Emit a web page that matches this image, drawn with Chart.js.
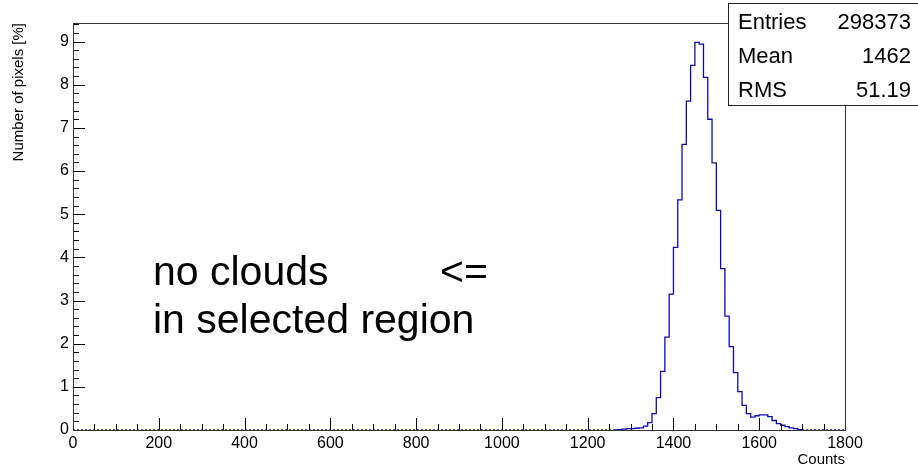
<!DOCTYPE html>
<html>
<head>
<meta charset="utf-8">
<script src="https://cdn.jsdelivr.net/npm/chart.js@4.4.1/dist/chart.umd.min.js"></script>
<style>
  html, body { margin: 0; padding: 0; background: #fff; }
  #wrap { width: 918px; height: 466px; }
</style>
</head>
<body>
<div id="wrap"><canvas id="histo" width="918" height="466"></canvas></div>
<script>
// histogram binning (counts axis)
var binWidth = 10;
var xMin = 0;
var xMax = 1800;
var yMax = 9.43;

// pixel fractions [%] per bin, starting at the first non-empty bin
var firstFilledBin = 1270;
var binContents = [
  0.01, 0.02, 0.03, 0.03, 0.04, 0.05, 0.09, 0.17, 0.38, 0.75,   // 1270-1360
  1.36, 2.15, 3.15, 4.23, 5.33, 6.62, 7.62, 8.45, 8.98, 8.94,   // 1370-1460
  8.17, 7.20, 6.19, 5.09, 3.74, 2.64, 1.93, 1.33, 0.89, 0.57,   // 1470-1560
  0.38, 0.30, 0.33, 0.35, 0.35, 0.31, 0.22, 0.15, 0.11, 0.08,   // 1570-1660
  0.05, 0.03, 0.01                                              // 1670-1690
];

var xTickLabels = [0, 200, 400, 600, 800, 1000, 1200, 1400, 1600, 1800];
var yTickLabels = [0, 1, 2, 3, 4, 5, 6, 7, 8, 9];

var statsNames = ["Entries", "Mean", "RMS"];
var statsValues = ["298373", "1462", "51.19"];

var noteLines = ["no clouds", "in selected region"];
var noteArrow = "<=";

var FONT = "'Liberation Sans', Arial, Helvetica, sans-serif";
var histColor = "#0c0cb4";

// one point per bin lower edge, plus the closing edge
var points = [];
var nBins = (xMax - xMin) / binWidth;
for (var i = 0; i < nBins; i++) {
  var lo = xMin + i * binWidth;
  var k = (lo - firstFilledBin) / binWidth;
  var v = (k >= 0 && k < binContents.length) ? binContents[k] : 0;
  points.push({ x: lo, y: v });
}
points.push({ x: xMax, y: 0 });

// frame, inside ticks, stats box and note text
var rootStyle = {
  id: 'rootStyle',
  afterDraw: function(chart) {
    var ctx = chart.ctx;
    var a = chart.chartArea;
    var xs = chart.scales.x, ys = chart.scales.y;
    ctx.save();
    ctx.strokeStyle = '#000';
    ctx.lineWidth = 1;

    // x ticks every 50, long ones at labels
    ctx.beginPath();
    for (var t = xMin; t <= xMax; t += 50) {
      var px = Math.round(xs.getPixelForValue(t)) + 0.5;
      var len = (t % 200 === 0) ? 12 : 6;
      ctx.moveTo(px, a.bottom);
      ctx.lineTo(px, a.bottom - len);
    }
    // y ticks every 0.2
    for (var j = 0; j <= 47; j++) {
      var yv = j * 0.2;
      if (yv > yMax) break;
      var py = Math.round(ys.getPixelForValue(yv)) + 0.5;
      var ylen = (j % 5 === 0) ? 12 : 6;
      ctx.moveTo(a.left, py);
      ctx.lineTo(a.left + ylen, py);
    }
    ctx.stroke();

    ctx.strokeStyle = '#333';
    ctx.strokeRect(Math.round(a.left) + 0.5, Math.round(a.top) + 0.5,
      Math.round(a.right - a.left), Math.round(a.bottom - a.top));

    // stats box
    ctx.fillStyle = '#fff';
    ctx.fillRect(728, 3, 195, 103);
    ctx.strokeStyle = '#222';
    ctx.strokeRect(728.5, 3.5, 195, 102);
    ctx.fillStyle = '#000';
    ctx.font = '22px ' + FONT;
    ctx.textBaseline = 'alphabetic';
    for (var r = 0; r < statsNames.length; r++) {
      var by = 29 + r * 34;
      ctx.textAlign = 'left';
      ctx.fillText(statsNames[r], 738, by);
      ctx.textAlign = 'right';
      ctx.fillText(statsValues[r], 911, by);
    }

    // note
    ctx.font = '41px ' + FONT;
    ctx.textAlign = 'left';
    ctx.fillText(noteLines[0], 153, 285);
    ctx.fillText(noteArrow, 440, 285);
    ctx.fillText(noteLines[1], 153, 333);
    ctx.restore();
  }
};

new Chart(document.getElementById('histo').getContext('2d'), {
  type: 'line',
  data: {
    datasets: [{
      data: points,
      stepped: 'before',
      borderColor: histColor,
      borderWidth: 1.3,
      pointRadius: 0,
      fill: false,
      segment: {
        borderDash: function(c) {
          return (c.p0.parsed.y === 0 && c.p1.parsed.y === 0) ? [2, 2] : undefined;
        }
      }
    }]
  },
  options: {
    responsive: false,
    animation: false,
    devicePixelRatio: 1,
    layout: { padding: { left: 0, top: 23, right: 73, bottom: 0 } },
    plugins: {
      legend: { display: false },
      tooltip: { enabled: false }
    },
    scales: {
      x: {
        type: 'linear',
        min: xMin,
        max: xMax,
        afterFit: function(s) { s.height = 36; },
        afterBuildTicks: function(s) {
          s.ticks = xTickLabels.map(function(v) { return { value: v }; });
        },
        grid: { display: false, drawTicks: false },
        border: { display: false },
        ticks: {
          color: '#000',
          font: { family: FONT, size: 16 },
          padding: 4,
          maxRotation: 0,
          autoSkip: false,
          callback: function(v) { return String(v); }
        },
        title: {
          display: true,
          text: 'Counts',
          align: 'end',
          color: '#000',
          font: { family: FONT, size: 15, lineHeight: 1 },
          padding: { top: 0, bottom: -1 }
        }
      },
      y: {
        type: 'linear',
        min: 0,
        max: yMax,
        afterFit: function(s) { s.width = 73; },
        afterBuildTicks: function(s) {
          s.ticks = yTickLabels.map(function(v) { return { value: v }; });
        },
        grid: { display: false, drawTicks: false },
        border: { display: false },
        ticks: {
          color: '#000',
          font: { family: FONT, size: 16 },
          padding: 4,
          callback: function(v) { return String(v); }
        },
        title: {
          display: true,
          text: 'Number of pixels [%]',
          align: 'end',
          color: '#000',
          font: { family: FONT, size: 15, lineHeight: 1 },
          padding: { top: 11, bottom: 0 }
        }
      }
    }
  },
  plugins: [rootStyle]
});
</script>
</body>
</html>
